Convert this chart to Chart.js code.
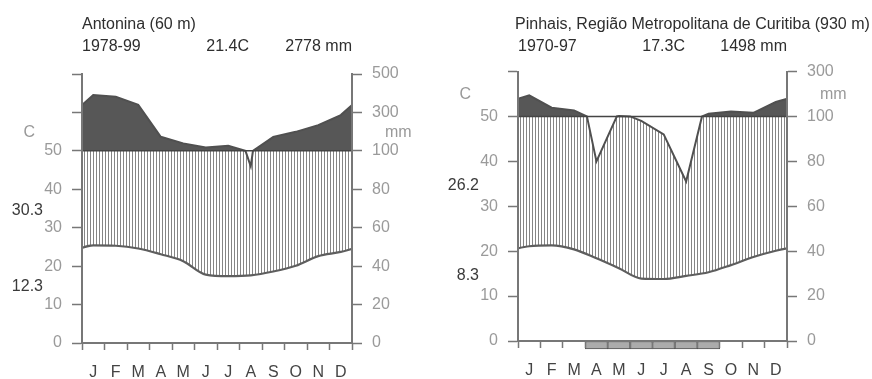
<!DOCTYPE html>
<html>
<head>
<meta charset="utf-8">
<script src="https://cdn.jsdelivr.net/npm/chart.js@4.4.1/dist/chart.umd.min.js"></script>
<style>
html,body{margin:0;padding:0;background:#fff;}
#wrap{position:relative;width:872px;height:379px;overflow:hidden;background:#fff;}
canvas{position:absolute;top:0;}
#c1{left:0;}
#c2{left:436px;}
</style>
</head>
<body>
<div id="wrap">
<canvas id="c1" width="436" height="379"></canvas>
<canvas id="c2" width="436" height="379"></canvas>
</div>
<script>
// ---------- data ----------
const months = ['J','F','M','A','M','J','J','A','S','O','N','D'];

const antoninaTemp   = [25.4, 25.3, 24.6, 23.1, 21.3, 17.8, 17.4, 17.6, 18.6, 20.1, 22.6, 23.7]; // °C
const antoninaPrecip = [391, 382, 339, 173, 139, 118, 126, 92, 173, 199, 234, 286];               // mm
const antoninaFrost  = [0,0,0,0,0,0,0,0,0,0,0,0];

const pinhaisTemp    = [21.1, 21.3, 20.4, 18.4, 16.2, 13.9, 13.8, 14.5, 15.3, 16.9, 18.7, 20.1];
const pinhaisPrecip  = [194, 139, 127, 80, 102, 98, 92, 71, 112, 122, 116, 164];
const pinhaisFrost   = [0,0,0,1,1,1,1,1,1,0,0,0];

const tempTickLabels           = [0, 10, 20, 30, 40, 50];
const antoninaPrecipTickLabels = [0, 20, 40, 60, 80, 100, 300, 500];
const pinhaisPrecipTickLabels  = [0, 20, 40, 60, 80, 100, 300];

const antoninaHeader = ['Antonina (60 m)', '1978-99', '21.4C', '2778 mm'];
const pinhaisHeader  = ['Pinhais, Região Metropolitana de Curitiba (930 m)', '1970-97', '17.3C', '1498 mm'];
const antoninaExtremes = ['30.3', '12.3'];
const pinhaisExtremes  = ['26.2', '8.3'];

// ---------- helpers ----------
// Walter-Lieth scale: 20 mm = 10 °C below 100 mm, 200 mm = 10 °C above
function scaleP(p) { return p <= 100 ? p / 2 : 50 + (p - 100) / 20; }

function tempPoints(t) {
  const pts = [{x: -0.5, y: t[11]}];
  t.forEach((v, i) => pts.push({x: i + 0.5, y: v}));
  pts.push({x: 12.5, y: t[0]});
  return pts;
}
function precipPoints(p) {
  const raw = [{x: -0.5, v: p[11]}];
  p.forEach((v, i) => raw.push({x: i + 0.5, v}));
  raw.push({x: 12.5, v: p[0]});
  const out = [];
  raw.forEach((pt, i) => {
    if (i > 0) {
      const q = raw[i - 1];
      if ((q.v - 100) * (pt.v - 100) < 0) {
        const f = (100 - q.v) / (pt.v - q.v);
        out.push({x: q.x + f * (pt.x - q.x), y: 50});
      }
    }
    out.push({x: pt.x, y: scaleP(pt.v)});
  });
  return out;
}

function makeHatch() {
  const c = document.createElement('canvas');
  c.width = 3; c.height = 3;
  const g = c.getContext('2d');
  g.fillStyle = '#ffffff'; g.fillRect(0, 0, 3, 3);
  g.fillStyle = '#858585'; g.fillRect(0, 0, 1, 3);
  return g.createPattern(c, 'repeat');
}

const FONT = '"Liberation Sans", Arial, sans-serif';
Chart.defaults.font.family = FONT;
Chart.defaults.font.size = 16;

const climateText = {
  id: 'climateText',
  afterDraw(chart, args, o) {
    const ctx = chart.ctx, a = chart.chartArea, y = chart.scales.y;
    ctx.save();
    ctx.font = '16px ' + FONT;
    ctx.textBaseline = 'middle';
    ctx.fillStyle = '#2e2e2e';
    ctx.textAlign = 'left';
    ctx.fillText(o.header[0], a.left + o.nameDx, 25);
    ctx.fillText(o.header[1], a.left, 47);
    ctx.textAlign = 'right';
    ctx.fillText(o.header[2], a.left + 167, 47);
    ctx.fillText(o.header[3], a.right, 47);
    ctx.fillStyle = '#3a3a3a';
    ctx.fillText(o.extremes[0], a.left - 39, y.getPixelForValue(34.5));
    ctx.fillText(o.extremes[1], a.left - 39, y.getPixelForValue(14.6));
    ctx.fillStyle = '#999999';
    ctx.fillText('C', a.left - 47, y.getPixelForValue(55) + 1);
    ctx.textAlign = 'left';
    ctx.fillText('mm', a.right + 33, y.getPixelForValue(55) + 1);
    ctx.restore();
  }
};

function makeChart(id, opt) {
  const hatch = makeHatch();
  const yTicks = [];
  for (let v = 0; v <= opt.yMax; v += 10) yTicks.push(v);
  const xTicks = [];
  for (let v = 0; v <= 12; v += 0.5) xTicks.push(v);
  const frostData = opt.frost.map((f, i) => f ? {x: i + 0.5, y: [-1.75, 0]} : null).filter(Boolean);

  const axisCol = '#777777';
  const labelCol = '#9a9a9a';

  return new Chart(document.getElementById(id), {
    type: 'line',
    data: {
      datasets: [
        { // 100 mm line
          data: [{x: 0, y: 50}, {x: 12, y: 50}],
          borderColor: '#444444', borderWidth: 1.5, pointRadius: 0, fill: false, order: 0
        },
        { // precipitation
          data: precipPoints(opt.precip),
          borderColor: '#505050', borderWidth: 2, pointRadius: 0, tension: 0,
          fill: {target: {value: 50}, above: '#575757', below: '#ffffff'}, order: 1
        },
        { // temperature with humid hatching up to 100 mm
          data: tempPoints(opt.temp),
          borderColor: '#5e5e5e', borderWidth: 2.2, pointRadius: 0,
          cubicInterpolationMode: 'monotone',
          backgroundColor: hatch,
          fill: {target: {value: 50}}, order: 2
        },
        { // frost months
          type: 'bar',
          data: frostData,
          backgroundColor: '#ababab', borderColor: '#555555', borderWidth: 1,
          borderSkipped: false, barThickness: 'flex', barPercentage: 1, categoryPercentage: 1,
          clip: false, order: 3
        }
      ]
    },
    options: {
      responsive: false,
      animation: false,
      devicePixelRatio: 1,
      layout: {padding: {top: opt.top, left: 0, right: 0, bottom: 0}},
      plugins: {
        legend: {display: false},
        tooltip: {enabled: false},
        climateText: {header: opt.header, extremes: opt.extremes, nameDx: opt.nameDx}
      },
      scales: {
        x: {
          type: 'linear', min: 0, max: 12, offset: false,
          afterBuildTicks: s => { s.ticks = xTicks.map(v => ({value: v})); },
          afterFit: s => { s.height = opt.xHeight; },
          grid: {
            display: true, drawOnChartArea: false, offset: false, tickLength: 7, tickWidth: 1.5,
            tickColor: c => (c.tick && Number.isInteger(c.tick.value)) ? axisCol : 'rgba(0,0,0,0)', z: 1
          },
          border: {display: true, color: axisCol, width: 2, z: 1},
          ticks: {
            autoSkip: false, maxRotation: 0, minRotation: 0, padding: 13, color: '#444444',
            font: {size: 16},
            callback: v => Number.isInteger(v) ? '' : months[Math.floor(v)]
          }
        },
        y: {
          type: 'linear', position: 'left', min: 0, max: opt.yMax,
          afterBuildTicks: s => { s.ticks = yTicks.map(v => ({value: v})); },
          afterFit: s => { s.width = opt.leftW; },
          grid: {drawOnChartArea: false, tickLength: 10, tickWidth: 1.5, tickColor: axisCol, z: 1},
          border: {display: true, color: axisCol, width: 2, z: 1},
          ticks: {
            padding: 10, color: labelCol, font: {size: 16},
            callback: v => tempTickLabels.includes(v) ? String(v) : ''
          }
        },
        y2: {
          type: 'linear', position: 'right', min: 0, max: opt.yMax,
          afterBuildTicks: s => { s.ticks = yTicks.map(v => ({value: v})); },
          afterFit: s => { s.width = opt.rightW; },
          grid: {drawOnChartArea: false, tickLength: 10, tickWidth: 1.5, tickColor: axisCol, z: 1},
          border: {display: true, color: axisCol, width: 2, z: 1},
          ticks: {
            padding: 10, color: labelCol, font: {size: 16},
            callback: (v, i) => opt.precipLabels[i] !== undefined ? String(opt.precipLabels[i]) : ''
          }
        }
      }
    },
    plugins: [climateText]
  });
}

makeChart('c1', {
  temp: antoninaTemp, precip: antoninaPrecip, frost: antoninaFrost,
  precipLabels: antoninaPrecipTickLabels, header: antoninaHeader, extremes: antoninaExtremes,
  yMax: 70, top: 74, xHeight: 36, leftW: 82, rightW: 84, nameDx: 0
});
makeChart('c2', {
  temp: pinhaisTemp, precip: pinhaisPrecip, frost: pinhaisFrost,
  precipLabels: pinhaisPrecipTickLabels, header: pinhaisHeader, extremes: pinhaisExtremes,
  yMax: 60, top: 71.5, xHeight: 38, leftW: 82, rightW: 85, nameDx: -3
});
</script>
</body>
</html>
